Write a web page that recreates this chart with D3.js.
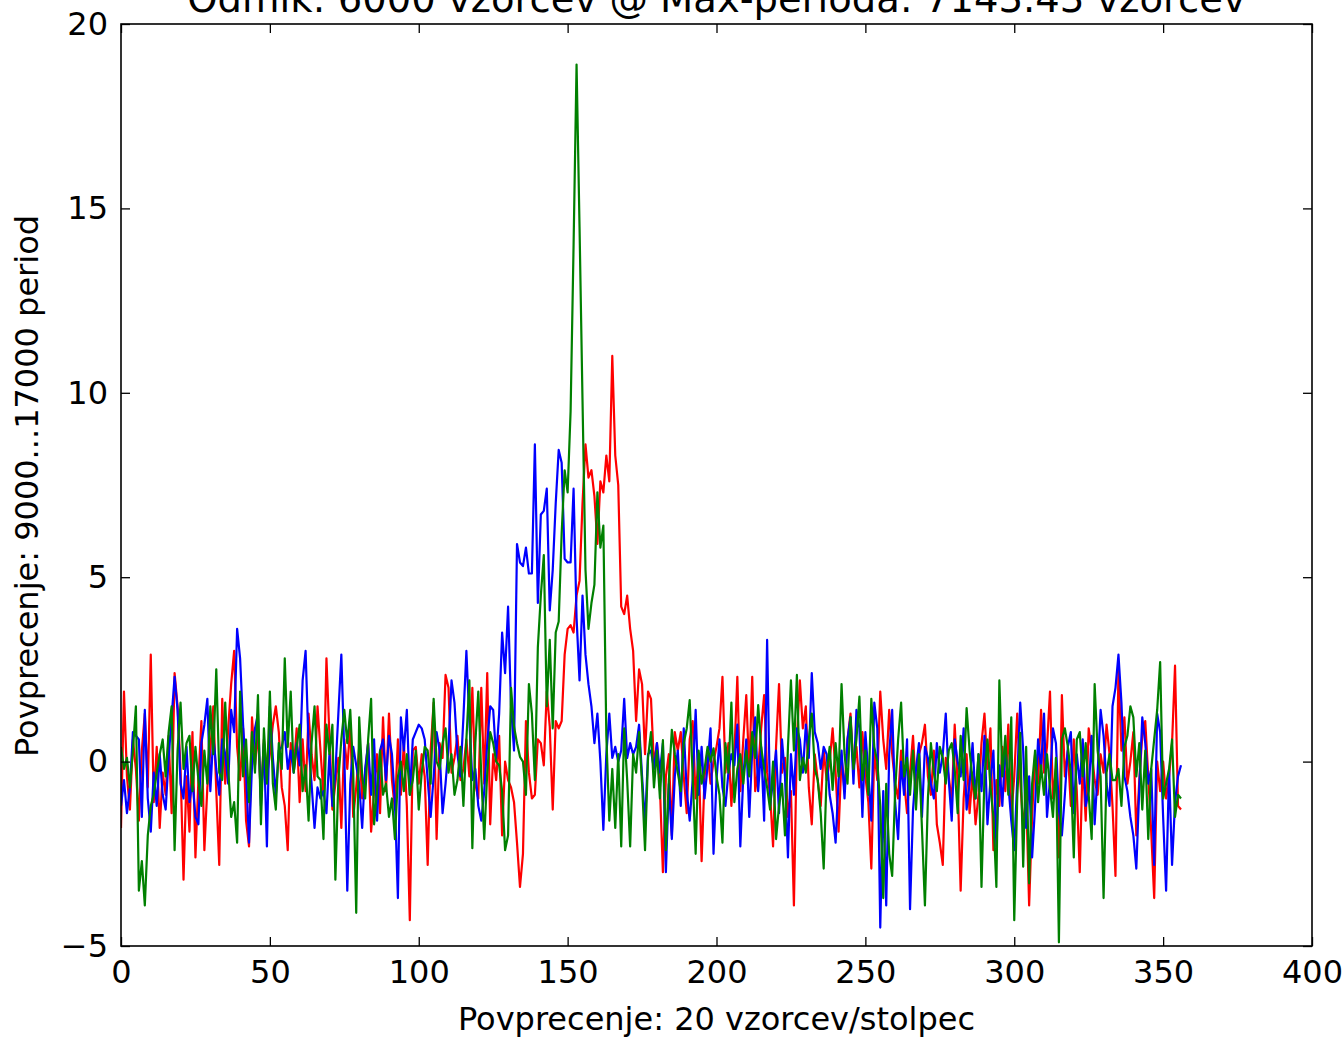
<!DOCTYPE html>
<html>
<head>
<meta charset="utf-8">
<script src="https://cdn.jsdelivr.net/npm/d3@7"></script>
<style>
  html, body { margin: 0; padding: 0; background: #fff; }
  svg { display: block; font-family: "DejaVu Sans", sans-serif; }
</style>
</head>
<body>
<svg id="chart" width="1344" height="1040"></svg>
<script>
const titleText = "Odmik: 6000 vzorcev @ Max-perioda: 7143.43 vzorcev";
const xLabel = "Povprecenje: 20 vzorcev/stolpec";
const yLabel = "Povprecenje: 9000...17000 period";
const xTicks = [0, 50, 100, 150, 200, 250, 300, 350, 400];
const yTicks = [-5, 0, 5, 10, 15, 20];

const blueSeries = [
-1.2,-0.5,-1.4,-0.7,0.8,0.7,0.6,-1.5,1.4,-1.0,
-1.9,-0.3,-1.2,0.2,-0.9,-1.3,0.1,1.2,2.3,1.4,
-0.6,-1.0,0.4,-1.1,-0.5,-1.5,-1.7,0.5,1.0,1.7,
-0.8,0.7,-0.2,-0.9,0.6,0.2,-0.6,1.4,0.8,3.6,
2.8,1.0,-0.3,-2.2,-0.1,0.9,1.3,-1.2,0.5,-2.3,
1.5,0.1,-0.9,0.3,0.4,0.8,-0.2,0.3,-0.3,0.5,
-0.1,2.2,3.0,0.4,-0.6,-1.8,-0.7,-1.0,-0.8,-1.4,
0.2,-1.2,-0.3,1.3,2.9,0.2,-3.5,-0.6,0.4,-0.1,
-0.6,-1.8,-0.2,0.5,-0.9,0.6,-1.6,0.3,0.6,-0.5,
0.7,0.2,-1.1,-3.7,1.2,0.3,1.4,-0.9,0.6,0.8,
1.0,0.9,0.6,-0.5,-1.5,-0.4,0.8,0.3,-1.4,-0.6,
0.4,2.2,1.6,0.2,-0.4,1.2,3.0,1.1,-0.5,-0.2,
-1.2,-1.6,-0.8,0.5,1.5,1.4,0.1,1.3,3.5,2.4,
4.2,1.5,0.3,5.9,5.4,5.3,5.8,5.1,5.1,8.6,
4.3,6.7,6.8,7.4,4.1,5.2,7.0,8.45,8.1,5.5,
5.4,5.4,7.4,3.9,2.2,4.5,2.9,2.1,1.5,0.5,
1.3,0.0,-1.85,0.2,1.3,0.1,0.4,0.0,0.3,1.7,
0.1,0.5,0.2,0.4,1.0,-0.4,-1.7,0.2,0.3,-0.2,
0.5,-0.3,0.5,-3.0,-0.6,-2.1,-0.4,0.3,-1.2,0.9,
-0.8,-1.6,-0.5,1.4,-0.9,0.4,-1.0,-0.1,0.9,-2.5,
-0.5,0.6,-0.7,-1.2,-0.3,0.2,-0.1,1.0,-2.3,-0.4,
0.6,-1.5,0.3,1.2,-0.8,0.4,-1.6,3.3,-1.2,-0.5,
0.3,-1.4,0.6,-0.4,-2.6,0.2,-0.9,0.9,0.6,-0.3,
1.0,0.1,2.4,0.8,0.5,-0.2,0.4,0.2,-0.9,-1.4,
-2.2,-0.5,0.3,-1.0,0.6,1.2,-0.6,1.4,0.9,-1.5,
0.8,-0.3,-1.6,1.6,0.9,-4.5,-0.8,-3.9,0.2,1.4,
-1.1,-2.1,0.0,-0.9,0.6,-4.0,-1.3,-0.2,0.5,-1.5,
0.4,0.1,-0.6,-1.0,0.5,-0.3,0.2,1.3,-0.5,-1.6,
0.6,0.0,-0.4,0.9,-1.3,-0.6,0.5,-1.0,0.2,-0.8,
0.7,-1.7,-0.5,0.3,-2.3,-0.1,-1.2,0.4,-0.6,-1.6,
-2.4,-0.5,1.6,0.3,-1.8,-0.4,-2.6,-1.2,0.6,-0.2,
1.3,-1.5,-0.5,0.9,0.5,-1.3,-2.0,-0.9,0.4,0.8,
-1.4,0.2,-0.6,0.6,-1.2,-0.8,0.7,-1.7,-0.3,1.4,
0.7,-0.6,-1.2,1.5,2.0,2.9,1.6,-0.4,-0.8,-1.5,
-2.0,-2.9,-0.7,1.2,0.5,-0.6,-0.2,-2.8,1.3,0.8,
-1.5,-3.5,-0.2,-2.8,-1.1,-0.4,-0.1
];

const redSeries = [
-1.8,1.9,-0.4,-1.3,0.6,-0.2,-1.6,0.3,1.3,-0.7,
2.9,-1.1,0.4,-1.8,-0.3,-0.9,0.7,-1.4,2.4,1.5,
-0.2,-3.2,-0.4,-1.9,0.8,-2.6,-0.5,1.1,-2.4,-0.7,
0.3,1.5,-0.8,-2.8,1.7,-0.6,0.9,2.1,3.0,0.4,
-0.5,0.9,-1.6,-2.3,1.2,-0.1,0.8,-1.0,0.6,-0.4,
0.2,1.0,1.5,0.8,-0.7,-1.2,-2.4,0.5,-0.2,0.9,
-1.1,0.6,-0.8,1.3,0.2,-0.5,1.5,0.3,-0.9,2.8,
0.7,-1.3,-0.6,0.1,-1.8,0.6,-0.2,1.0,-1.5,-0.7,
0.4,-1.0,-0.3,0.5,-1.9,-0.8,0.2,-1.4,1.2,-0.8,
1.3,-0.5,-1.3,0.6,-0.9,0.5,-1.2,-4.3,0.3,0.4,
-0.6,0.2,-0.4,-2.8,0.3,1.6,-2.1,0.5,0.1,2.35,
2.0,-0.3,0.1,0.7,-0.5,-0.2,0.6,-0.4,2.0,-0.6,
-1.0,2.0,-0.6,2.4,-1.7,0.2,-0.5,0.7,-2.0,0.0,
-0.5,-0.7,-1.1,-2.2,-3.4,-2.5,1.1,-0.3,-1.0,-0.9,
0.6,0.5,-0.1,1.9,0.95,-1.3,1.1,0.9,1.1,2.9,
3.6,3.7,3.5,4.5,4.9,7.0,8.6,7.7,7.9,7.2,
5.9,7.6,7.3,8.3,7.6,11.0,8.3,7.5,4.2,4.0,
4.5,3.6,3.0,1.1,2.5,2.1,0.2,1.9,1.7,-0.1,
0.5,-0.7,-3.0,-0.4,0.2,-2.0,0.8,0.3,0.8,-0.4,
-1.4,0.6,1.1,-1.0,0.2,-2.7,-0.4,0.3,-0.6,0.0,
0.4,0.9,2.3,-0.3,0.5,-1.2,0.2,2.3,-0.8,0.6,
1.8,-0.3,2.3,-0.8,-0.2,0.9,1.8,-0.3,-0.9,-2.3,
0.4,2.1,-0.3,0.1,-1.5,-0.8,-3.9,0.6,2.2,0.9,
1.5,-0.7,-1.7,0.2,-0.5,-1.2,0.3,-0.5,0.0,0.9,
-0.3,-1.9,0.1,-0.8,0.6,1.3,-0.2,0.4,-0.7,0.8,
-0.4,-1.1,-2.9,0.3,-0.5,1.9,0.6,-0.2,1.4,0.2,
-0.6,-1.0,0.3,-0.5,-1.4,-0.3,0.7,-0.8,0.2,0.5,
1.0,-0.4,-0.9,0.3,-1.7,-2.2,-2.8,0.1,-0.4,-1.1,
1.0,-0.6,-3.5,-1.0,0.2,-1.4,-0.3,-1.7,-0.9,0.5,
1.3,-0.2,0.9,-2.4,-0.5,-1.2,0.4,-0.8,1.0,-1.5,
-0.4,1.3,-0.5,-1.8,-0.9,-3.9,-1.5,0.2,-0.6,1.4,
-0.3,0.4,1.9,-1.0,-0.2,-2.6,1.8,-0.4,0.3,-1.2,
0.6,-0.8,-3.0,0.1,-1.6,0.9,0.3,-0.5,-0.9,0.2,
-0.3,1.0,0.2,-1.2,-3.1,2.5,0.3,1.2,-0.6,0.0,
0.8,-2.0,-0.5,0.7,1.1,-0.4,-1.9,-3.7,0.0,-0.8,
0.0,-1.0,-0.4,0.5,2.6,-1.2,-1.3
];

const greenSeries = [
0.4,-0.2,0.1,-0.7,0.3,1.5,-3.5,-2.7,-3.9,-2.0,
-1.2,-0.9,-0.3,0.2,0.6,-0.4,0.8,1.5,-2.4,0.3,
1.6,-0.2,0.5,0.7,-0.8,0.4,-0.5,-1.2,0.3,-0.6,
1.5,0.2,2.5,-0.3,-0.5,1.6,-0.2,-1.5,-1.1,-2.2,
1.9,-0.4,0.6,-1.1,0.8,-0.3,1.8,-1.7,0.9,-0.6,
1.9,-0.6,-1.3,0.5,-0.2,2.8,0.4,1.9,-0.3,0.4,
1.0,-0.8,-0.1,-1.6,0.5,1.5,-0.4,-0.5,-2.1,1.0,
0.2,1.0,-3.2,-0.5,0.6,1.4,0.5,1.4,-0.3,-4.1,
1.2,-0.4,-1.0,0.6,1.7,-1.7,-0.8,0.3,-0.9,-0.6,
-1.5,-1.0,-2.1,-0.4,0.0,-0.8,0.2,-0.9,-0.5,0.3,
-1.3,-0.3,0.4,0.3,-0.6,1.7,0.0,-0.2,0.5,0.9,
-0.3,0.2,-0.9,-0.5,0.4,-1.2,0.6,2.2,-2.35,0.5,
1.9,-0.4,-2.1,-0.3,0.8,0.5,0.0,-0.1,-0.8,-2.4,
-2.0,2.0,0.95,0.5,0.13,0.0,-0.9,2.1,1.3,-0.5,
3.1,4.5,5.6,1.5,3.3,0.9,3.5,3.8,6.2,7.9,
7.3,9.5,14.0,18.9,14.5,9.8,5.2,3.6,4.3,4.8,
7.3,5.8,6.4,0.7,-1.6,-0.2,-1.8,0.2,-2.3,0.9,
-0.5,-2.3,0.2,-0.3,0.8,-0.6,-2.4,0.1,0.8,-0.7,
0.3,-1.0,0.58,-2.4,-0.5,0.86,0.2,-0.3,-0.8,0.5,
0.9,1.67,-0.4,-2.5,0.3,-0.6,-0.2,0.4,0.0,0.36,
-0.4,-0.9,-2.2,0.5,-0.3,1.6,-1.1,-0.2,0.2,-0.6,
0.3,-0.4,0.8,0.1,1.53,0.4,-0.2,-0.7,-1.3,0.0,
-2.1,-1.2,-0.6,-2.0,0.4,2.2,0.3,2.35,-0.5,0.1,
-0.3,0.6,1.3,-0.2,-0.5,-1.4,-2.9,-0.3,0.4,-0.77,
0.5,-0.4,2.1,0.2,-0.6,1.2,-0.2,0.6,1.76,-0.5,
0.3,-0.9,1.7,0.4,0.0,-1.2,-3.7,-0.6,-2.5,-3.1,
-0.8,0.6,1.6,-0.4,0.1,-0.9,0.3,-1.3,0.2,-1.8,
-3.9,-1.0,0.5,-0.3,-0.8,0.4,0.1,-0.6,0.3,0.5,
-0.2,-1.4,0.7,-0.5,1.45,0.3,-0.5,-1.0,0.2,-3.4,
-0.4,0.6,-0.7,-1.5,-3.4,2.2,-0.4,0.7,-0.9,1.2,
-4.3,-1.0,0.78,-2.85,0.4,-3.3,-0.6,0.3,-1.1,-0.1,
-0.9,0.2,-0.7,-1.5,0.1,-4.9,0.6,0.9,0.4,-0.3,
-2.6,0.6,0.8,-0.4,0.5,-0.9,-2.1,2.1,0.3,-0.4,
-3.7,-0.3,0.2,-0.5,-0.5,-0.2,-1.2,0.4,0.7,1.5,
1.2,-0.4,0.5,-1.3,0.3,-2.1,-0.2,0.6,1.4,2.7,
-1.0,-0.6,-0.2,0.6,-1.5,-0.9,-1.0
];

const seriesList = [
  { values: redSeries, color: "#ff0000" },
  { values: blueSeries, color: "#0000ff" },
  { values: greenSeries, color: "#008000" }
];

const svg = d3.select("#chart");
const margin = { left: 121, right: 32, top: 24, bottom: 94 };
const W = 1344, H = 1040;
const innerW = W - margin.left - margin.right;
const innerH = H - margin.top - margin.bottom;

const x = d3.scaleLinear().domain([0, 400]).range([0, innerW]);
const y = d3.scaleLinear().domain([-5, 20]).range([innerH, 0]);

const g = svg.append("g").attr("transform", `translate(${margin.left},${margin.top})`);

g.append("clipPath").attr("id", "clip")
  .append("rect").attr("width", innerW).attr("height", innerH);

const line = d3.line().x((d, i) => x(i)).y(d => y(d));
const lines = g.append("g").attr("clip-path", "url(#clip)");
seriesList.forEach(s => {
  lines.append("path")
    .datum(s.values)
    .attr("fill", "none")
    .attr("stroke", s.color)
    .attr("stroke-width", 2.2)
    .attr("stroke-linejoin", "round")
    .attr("d", line);
});

const fmt = d => (d < 0 ? "\u2212" + Math.abs(d) : String(d));
const tickLen = 9;
const fs = 32;

const axB = g.append("g").attr("transform", `translate(0,${innerH})`)
  .call(d3.axisBottom(x).tickValues(xTicks).tickFormat(fmt).tickSizeInner(-tickLen).tickSizeOuter(0).tickPadding(14));
const axT = g.append("g")
  .call(d3.axisTop(x).tickValues(xTicks).tickFormat("").tickSizeInner(-tickLen).tickSizeOuter(0));
const axL = g.append("g")
  .call(d3.axisLeft(y).tickValues(yTicks).tickFormat(fmt).tickSizeInner(-tickLen).tickSizeOuter(0).tickPadding(13));
const axR = g.append("g").attr("transform", `translate(${innerW},0)`)
  .call(d3.axisRight(y).tickValues(yTicks).tickFormat("").tickSizeInner(-tickLen).tickSizeOuter(0));

[axB, axT, axL, axR].forEach(a => {
  a.select(".domain").remove();
  a.selectAll("line").attr("stroke", "#000").attr("stroke-width", 1.3);
  a.selectAll("text").attr("font-family", "DejaVu Sans").attr("font-size", fs).attr("fill", "#000");
});

g.append("rect").attr("width", innerW).attr("height", innerH)
  .attr("fill", "none").attr("stroke", "#000").attr("stroke-width", 1.6);

svg.append("text")
  .attr("x", margin.left + innerW / 2).attr("y", 12)
  .attr("text-anchor", "middle").attr("font-size", 38.5)
  .text(titleText);

svg.append("text")
  .attr("x", margin.left + innerW / 2).attr("y", 1030)
  .attr("text-anchor", "middle").attr("font-size", fs)
  .text(xLabel);

svg.append("text")
  .attr("transform", `translate(38,${margin.top + innerH / 2 + 1}) rotate(-90)`)
  .attr("text-anchor", "middle").attr("font-size", fs)
  .text(yLabel);
</script>
</body>
</html>
